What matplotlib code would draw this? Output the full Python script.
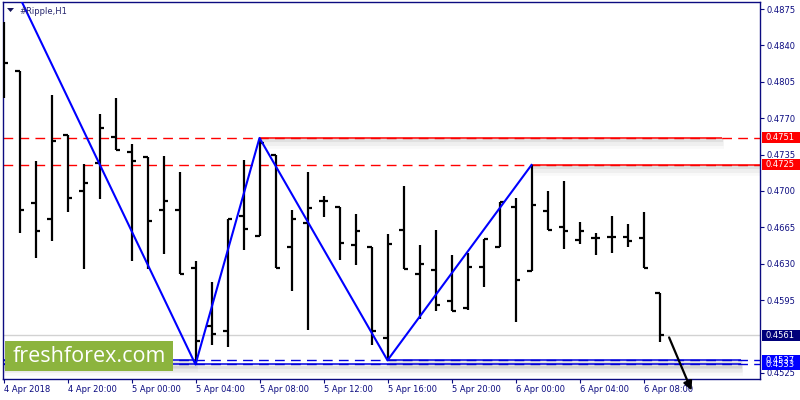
import matplotlib
matplotlib.use("Agg")
import matplotlib.pyplot as plt
import matplotlib.patheffects as pe
from matplotlib.patches import Rectangle, Polygon
from matplotlib.transforms import blended_transform_factory

# ---------------- data ----------------
time_labels = ["4 Apr 2018", "4 Apr 20:00", "5 Apr 00:00", "5 Apr 04:00", "5 Apr 08:00",
               "5 Apr 12:00", "5 Apr 16:00", "5 Apr 20:00", "6 Apr 00:00", "6 Apr 04:00",
               "6 Apr 08:00"]
time_label_bars = [0, 4, 8, 12, 16, 20, 24, 28, 32, 36, 40]

opens = [0.4845, 0.4815, 0.4688, 0.4673, 0.4754, 0.4700, 0.4727, 0.4752, 0.4737, 0.4733,
         0.4682, 0.4682, 0.4626, 0.4570, 0.4565, 0.4676, 0.4657, 0.4735, 0.4646, 0.4669,
         0.4690, 0.4685, 0.4648, 0.4646, 0.4558, 0.4662, 0.4620, 0.4624, 0.4594, 0.4587,
         0.4627, 0.4646, 0.4685, 0.4623, 0.4681, 0.4665, 0.4653, 0.4655, 0.4656, 0.4656,
         0.4655, 0.4602]
highs = [0.4863, 0.4815, 0.4729, 0.4792, 0.4754, 0.4726, 0.4774, 0.4789, 0.4745, 0.4733,
         0.4734, 0.4718, 0.4633, 0.4612, 0.4673, 0.4730, 0.4751, 0.4735, 0.4682, 0.4718,
         0.4695, 0.4685, 0.4678, 0.4646, 0.4659, 0.4705, 0.4648, 0.4662, 0.4638, 0.4640,
         0.4654, 0.4689, 0.4693, 0.4725, 0.4700, 0.4710, 0.4670, 0.4660, 0.4676, 0.4668,
         0.4680, 0.4602]
lows = [0.4789, 0.4660, 0.4635, 0.4652, 0.4680, 0.4625, 0.4692, 0.4739, 0.4633, 0.4625,
        0.4639, 0.4620, 0.4533, 0.4552, 0.4550, 0.4643, 0.4657, 0.4626, 0.4604, 0.4566,
        0.4675, 0.4634, 0.4629, 0.4552, 0.4537, 0.4625, 0.4577, 0.4584, 0.4584, 0.4585,
        0.4608, 0.4646, 0.4574, 0.4623, 0.4662, 0.4644, 0.4649, 0.4638, 0.4640, 0.4646,
        0.4626, 0.4555]
closes = [0.4823, 0.4682, 0.4661, 0.4748, 0.4693, 0.4708, 0.4761, 0.4739, 0.4729, 0.4671,
          0.4690, 0.4620, 0.4556, 0.4562, 0.4673, 0.4663, 0.4746, 0.4626, 0.4673, 0.4684,
          0.4690, 0.4650, 0.4661, 0.4565, 0.4649, 0.4625, 0.4630, 0.4590, 0.4584, 0.4627,
          0.4654, 0.4689, 0.4614, 0.4686, 0.4662, 0.4661, 0.4661, 0.4655, 0.4656, 0.4652,
          0.4626, 0.4561]

# visible price-axis labels (0.4560 is hidden behind the bid box in the reference)
price_ticks = [0.4875, 0.4840, 0.4805, 0.4770, 0.4735, 0.4700, 0.4665, 0.4630, 0.4595,
               0.4525]

zigzag_bars = [-1, 12, 16, 24, 33]
zigzag_prices = [0.4951, 0.4533, 0.4751, 0.4537, 0.4725]

red_levels = [0.4751, 0.4725]
blue_levels = [0.4537, 0.4533]
bid_price = 0.4561

# solid (trend) segments: (start bar, end bar, price)
red_segments = [(16, 44.9, 0.4751), (33, 47.4, 0.4725)]
blue_segments = [(-0.5, 12, 0.4537), (24, 46.1, 0.4537), (-0.5, 46.1, 0.4533)]

arrow_start = (41.6, 0.4559)
arrow_end = (43.0, 0.4508)

# ---------------- figure ----------------
W, H = 800, 400
fig = plt.figure(figsize=(8, 4), dpi=100)
fig.patch.set_facecolor("white")
ax = fig.add_axes([2.5 / W, 1 - 379 / H, 757.5 / W, 377 / H])
ax.set_facecolor("white")
ax.set_xlim(-0.0625, -0.0625 + 757.5 / 16)
ax.set_ylim(0.45190, 0.488185)

navy = "#0b0b80"
for s in ax.spines.values():
    s.set_color(navy)
    s.set_linewidth(1.0)

# bid line
ax.axhline(bid_price, color="#d2d2d2", lw=1.0, zorder=1)

shadow_fx = [
    pe.SimpleLineShadow(offset=(0.5, -1.5), shadow_color="black", alpha=0.06, linewidth=3),
    pe.SimpleLineShadow(offset=(1.0, -3.0), shadow_color="black", alpha=0.04, linewidth=5),
    pe.SimpleLineShadow(offset=(1.5, -4.5), shadow_color="black", alpha=0.025, linewidth=7),
    pe.Normal(),
]

# dashed horizontal lines
for p in red_levels:
    ax.axhline(p, color="#ff0000", lw=1.0, ls=(0, (7, 4.5)), zorder=2)
for p in blue_levels:
    ax.axhline(p, color="#0000dd", lw=1.0, ls=(0, (7, 4.5)), zorder=2)

# solid segments with shadows
for x0, x1, p in red_segments:
    ax.plot([x0, x1], [p, p], color="#ff0000", lw=1.1, zorder=2.2,
            path_effects=shadow_fx, solid_capstyle="butt")
for x0, x1, p in blue_segments:
    ax.plot([x0, x1], [p, p], color="#0000dd", lw=1.1, zorder=2.2,
            path_effects=shadow_fx, solid_capstyle="butt")

# OHLC bars
xs = list(range(len(opens)))
tk = 0.31
ax.vlines(xs, lows, highs, color="black", lw=1.6, zorder=3)
ax.hlines(opens, [x - tk for x in xs], xs, color="black", lw=1.6, zorder=3)
ax.hlines(closes, xs, [x + tk for x in xs], color="black", lw=1.6, zorder=3)

# zigzag
ax.plot(zigzag_bars, zigzag_prices, color="#0000ff", lw=1.5, zorder=4)

# arrow
ax.annotate("", xy=arrow_end, xytext=arrow_start, annotation_clip=False,
            arrowprops=dict(arrowstyle="-|>", color="black", lw=1.6, mutation_scale=13,
                            shrinkA=0, shrinkB=0),
            zorder=6)

# axes ticks
ax.yaxis.tick_right()
ax.set_yticks(price_ticks)
ax.set_yticklabels([f"{p:.4f}" for p in price_ticks])
ax.tick_params(axis="y", length=3, width=0.8, color=navy, labelcolor=navy,
               labelsize=6, pad=1.5)
ax.set_xticks(time_label_bars)
ax.set_xticklabels(time_labels, ha="left")
ax.tick_params(axis="x", length=3, width=0.8, color=navy, labelcolor=navy,
               labelsize=6, pad=1.2)

# right-side price boxes
bt = blended_transform_factory(ax.transAxes, ax.transData)
box_h = 11 * 0.00009625


def price_box(p, color):
    ax.add_patch(Rectangle((1.0026, p - box_h / 2), 0.06, box_h, transform=bt,
                           facecolor=color, edgecolor="none", clip_on=False, zorder=7))
    ax.text(1.0070, p, f"{p:.4f}", transform=bt, color="white", fontsize=6,
            va="center", ha="left", zorder=8, clip_on=False)


price_box(red_levels[0], "#ff0000")
price_box(red_levels[1], "#ff0000")
price_box(bid_price, "#00007a")
price_box(blue_levels[0], "#0000ff")
price_box(blue_levels[1], "#0000ff")

# title
ax.text((19 - 2.5) / 757.5, 1 - (11 - 2) / 377, "#Ripple,H1", transform=ax.transAxes,
        fontsize=6, color="#26266e", va="center", ha="left", zorder=9)
fig.add_artist(Polygon([(7 / W, 1 - 8 / H), (14 / W, 1 - 8 / H), (10.5 / W, 1 - 12 / H)],
                       closed=True, transform=fig.transFigure, facecolor="#14145a",
                       edgecolor="none", zorder=10))

# logo
fig.add_artist(Rectangle((5 / W, 1 - 371 / H), 168 / W, 30 / H, transform=fig.transFigure,
                         facecolor="#8cb43e", edgecolor="none", zorder=10))
fig.text(89 / W, 1 - 356 / H, "freshforex.com", family="Open Sans", fontsize=15.5,
         color="white", ha="center", va="center", zorder=11)

fig.savefig("out.png", dpi=100, facecolor="white")
